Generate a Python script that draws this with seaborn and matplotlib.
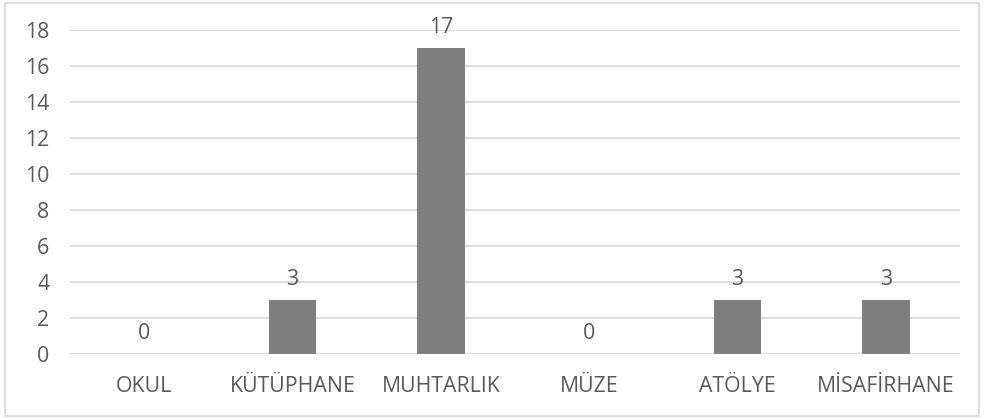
import matplotlib
matplotlib.use("Agg")
import matplotlib.pyplot as plt
import seaborn as sns
import pandas as pd
from matplotlib.patches import Rectangle

categories = ["OKUL", "KÜTÜPHANE", "MUHTARLIK", "MÜZE", "ATÖLYE", "MİSAFİRHANE"]
values = [0, 3, 17, 0, 3, 3]
yticks = [0, 2, 4, 6, 8, 10, 12, 14, 16, 18]

sns.set_theme(style="white")
plt.rcParams["font.family"] = ["Open Sans", "DejaVu Sans"]

text_color = "#595959"
bar_color = "#7f7f7f"
grid_color = "#d9d9d9"
fs = 15.3

df = pd.DataFrame({"kategori": categories, "sayi": values})

fig = plt.figure(figsize=(9.85, 4.18), dpi=100)
ax = fig.add_axes([70 / 985, 1 - 354 / 418, 890 / 985, 324 / 418])

sns.barplot(data=df, x="kategori", y="sayi", color=bar_color, saturation=1,
            width=0.32, linewidth=0, ax=ax, zorder=3)

ax.set_ylim(0, 18)
ax.set_yticks(yticks)
ax.set_xlim(-0.5, len(categories) - 0.5)
ax.yaxis.grid(True, color=grid_color, linewidth=1.3, zorder=0)
ax.xaxis.grid(False)
for s in ax.spines.values():
    s.set_visible(False)
ax.set_xlabel("")
ax.set_ylabel("")
ax.tick_params(axis="both", length=0, labelsize=fs, colors=text_color)
ax.tick_params(axis="y", pad=15)
ax.tick_params(axis="x", pad=16)

for i, v in enumerate(values):
    ax.annotate(str(v), xy=(i, v), xytext=(0, 7), textcoords="offset points",
                ha="center", va="bottom", fontsize=fs, color=text_color,
                annotation_clip=False)

fig.patches.append(Rectangle((5 / 985, 2 / 418), 974 / 985, 413 / 418,
                             transform=fig.transFigure, fill=False,
                             edgecolor=grid_color, linewidth=1.3))

fig.savefig("out.png", dpi=100)
